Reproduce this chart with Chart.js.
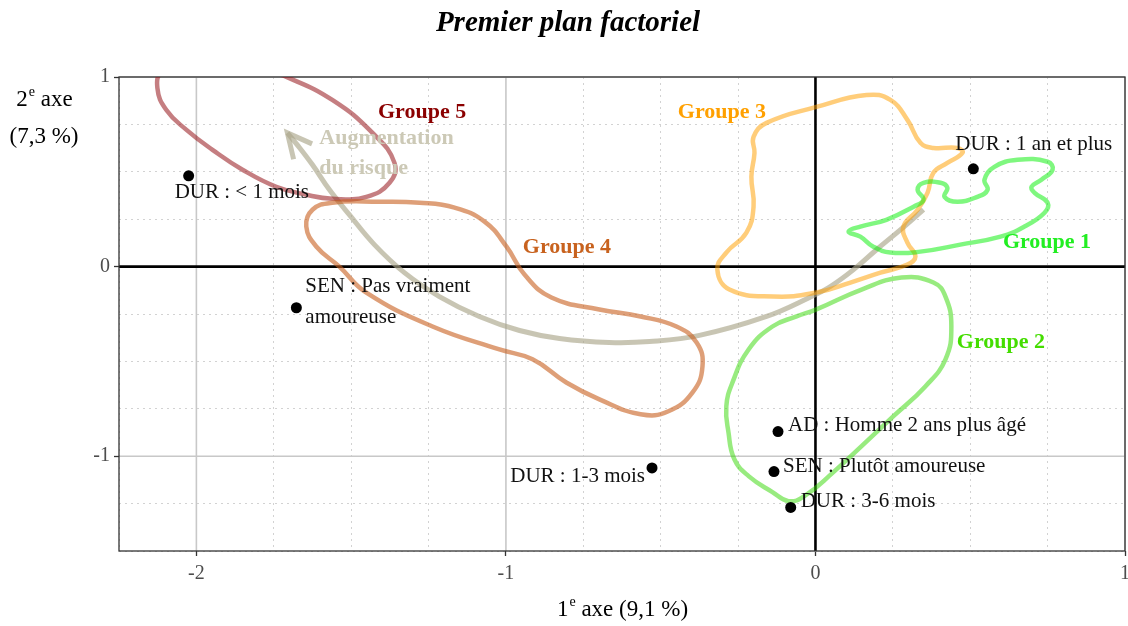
<!DOCTYPE html>
<html>
<head>
<meta charset="utf-8">
<script src="https://cdn.jsdelivr.net/npm/chart.js@4.4.0/dist/chart.umd.min.js"></script>
<style>
    html, body { margin: 0; padding: 0; background: #fff; }
</style>
</head>
<body>
<canvas id="myChart" width="1128" height="626"></canvas>
<script>
// modalites projetees sur le premier plan
const pointNames = ['DUR : < 1 mois', 'SEN : Pas vraiment\namoureuse', 'DUR : 1 an et plus', 'DUR : 1-3 mois',
    'AD : Homme 2 ans plus âgé', 'SEN : Plutôt amoureuse', 'DUR : 3-6 mois'];
const pointX = [-2.025, -1.677, 0.510, -0.528, -0.121, -0.134, -0.080];
const pointY = [0.479, -0.217, 0.516, -1.062, -0.870, -1.081, -1.270];

// contours des groupes (x, y)
const groupe1 = [[0.107, 0.184], [0.145, 0.211], [0.229, 0.247], [0.317, 0.316], [0.349, 0.353], [0.330, 0.405],
    [0.349, 0.442], [0.404, 0.442], [0.426, 0.416], [0.417, 0.368], [0.459, 0.342], [0.523, 0.368], [0.556, 0.405],
    [0.546, 0.458], [0.578, 0.526], [0.653, 0.563], [0.750, 0.553], [0.766, 0.511], [0.730, 0.458], [0.698, 0.421],
    [0.708, 0.389], [0.750, 0.337], [0.740, 0.284], [0.675, 0.211], [0.598, 0.158], [0.468, 0.116], [0.339, 0.079],
    [0.242, 0.074], [0.187, 0.105], [0.145, 0.158]];
const groupe2 = [[0.003, -0.226], [0.149, -0.121], [0.278, -0.058], [0.381, -0.084], [0.420, -0.158], [0.439, -0.316],
    [0.420, -0.489], [0.355, -0.632], [0.252, -0.789], [0.149, -0.947], [0.058, -1.084], [-0.036, -1.211],
    [-0.087, -1.237], [-0.139, -1.189], [-0.216, -1.105], [-0.262, -1.016], [-0.281, -0.874], [-0.288, -0.737],
    [-0.268, -0.611], [-0.216, -0.437], [-0.139, -0.316], [-0.061, -0.263]];
const groupe3 = [[-0.200, 0.684], [-0.158, 0.758], [0.003, 0.842], [0.165, 0.905], [0.242, 0.879], [0.297, 0.774],
    [0.339, 0.653], [0.381, 0.626], [0.459, 0.626], [0.475, 0.600], [0.426, 0.547], [0.381, 0.495], [0.362, 0.389],
    [0.330, 0.300], [0.284, 0.211], [0.297, 0.126], [0.323, 0.053], [0.297, 0.011], [0.210, -0.032], [0.113, -0.084],
    [0.003, -0.137], [-0.136, -0.158], [-0.278, -0.121], [-0.317, -0.016], [-0.288, 0.074], [-0.223, 0.179],
    [-0.200, 0.316], [-0.207, 0.474], [-0.197, 0.600]];
const groupe4 = [[-1.561, 0.337], [-1.409, 0.342], [-1.279, 0.337], [-1.166, 0.311], [-1.069, 0.237], [-0.998, 0.105],
    [-0.940, -0.042], [-0.853, -0.163], [-0.698, -0.226], [-0.565, -0.263], [-0.449, -0.316], [-0.384, -0.400],
    [-0.365, -0.526], [-0.397, -0.663], [-0.475, -0.763], [-0.565, -0.779], [-0.698, -0.700], [-0.805, -0.611],
    [-0.914, -0.489], [-1.021, -0.437], [-1.237, -0.316], [-1.451, -0.137], [-1.538, 0.000], [-1.612, 0.105],
    [-1.645, 0.211], [-1.625, 0.300]];
const groupe5 = [[-2.126, 0.942], [-2.110, 1.026], [-1.990, 1.079], [-1.829, 1.068], [-1.709, 1.000], [-1.561, 0.879],
    [-1.431, 0.705], [-1.360, 0.547], [-1.376, 0.442], [-1.451, 0.368], [-1.561, 0.358], [-1.645, 0.379],
    [-1.742, 0.421], [-1.851, 0.511], [-1.948, 0.616], [-2.032, 0.721], [-2.097, 0.826]];

// fleche "Augmentation du risque"
const fleche = [[0.349, 0.300], [0.275, 0.195], [0.197, 0.089], [0.123, -0.016], [0.048, -0.105], [-0.019, -0.163],
    [-0.158, -0.263], [-0.375, -0.363], [-0.536, -0.395], [-0.666, -0.400], [-0.827, -0.379], [-0.956, -0.337],
    [-1.086, -0.263], [-1.215, -0.158], [-1.328, -0.032], [-1.425, 0.116], [-1.506, 0.274], [-1.570, 0.405],
    [-1.625, 0.537], [-1.674, 0.642], [-1.706, 0.705]];

const groupNames = ['Groupe 1', 'Groupe 2', 'Groupe 3', 'Groupe 4', 'Groupe 5'];
const groupLabelX = [0.748, 0.599, -0.302, -0.803, -1.271];
const groupLabelY = [0.126, -0.400, 0.816, 0.100, 0.816];
const risqueLabel = ['Augmentation', 'du risque'];
const risqueX = -1.603;
const risqueY = [0.679, 0.516];

const xTicks = [-2, -1, 0, 1];
const yTicks = [-1, 0, 1];

// styles
const groupLine = ['rgba(0,240,0,0.5)', 'rgba(50,215,0,0.5)', 'rgba(255,160,0,0.52)', 'rgba(200,95,30,0.6)', 'rgba(150,20,25,0.55)'];
const groupText = ['#22ee22', '#44dd00', '#ffa000', '#c8621e', '#8b0000'];
const arrowColor = 'rgba(170,166,138,0.65)';
const serif = "'Liberation Serif', 'DejaVu Serif', serif";

// decalage des etiquettes en pixels : dx, dy, alignement
const labelPlace = [[-14, 17, 'left'], [9, -21, 'left'], [-18, -24, 'left'], [-7, 9, 'right'],
    [10, -6, 'left'], [9, -5, 'left'], [10, -6, 'left']];

const toXY = (arr) => arr.map(p => ({ x: p[0], y: p[1] }));

let datasets = [{
    data: pointX.map((x, i) => ({ x: x, y: pointY[i] })),
    showLine: false,
    pointRadius: 5.5,
    pointBackgroundColor: '#000',
    pointBorderWidth: 0,
}];
[groupe1, groupe2, groupe3, groupe4, groupe5].forEach((g, i) => {
    datasets.push({
        data: toXY(g),
        borderColor: groupLine[i],
        borderWidth: 4.5,
        pointRadius: 0,
        tension: 0.45,
        fill: false,
        clip: 0,
        closed: true
    });
});
datasets.push({
    data: toXY(fleche),
    borderColor: arrowColor,
    borderWidth: 5,
    pointRadius: 0,
    tension: 0.4,
    fill: false,
    isArrow: true
});

const isInt = (v) => Math.abs(v - Math.round(v)) < 1e-9;

// referme les contours comme une courbe lisse
const closeCurves = {
    id: 'closeCurves',
    afterDatasetsUpdate(chart) {
        chart.data.datasets.forEach((ds, i) => {
            if (!ds.closed) return;
            const line = chart.getDatasetMeta(i).dataset;
            line._loop = true;
            line._fullLoop = true;
            delete line._segments;
            delete line._path;
            line._pointsUpdated = false;
        });
    }
};

function supText(ctx, base, sup, rest, x, y, size, align) {
    ctx.font = size + 'px ' + serif;
    const w1 = ctx.measureText(base).width;
    const w3 = ctx.measureText(rest).width;
    ctx.font = Math.round(size * 0.62) + 'px ' + serif;
    const w2 = ctx.measureText(sup).width;
    const total = w1 + w2 + w3;
    let x0 = align === 'center' ? x - total / 2 : x;
    ctx.textAlign = 'left';
    ctx.textBaseline = 'alphabetic';
    ctx.font = size + 'px ' + serif;
    ctx.fillText(base, x0, y);
    ctx.font = Math.round(size * 0.62) + 'px ' + serif;
    ctx.fillText(sup, x0 + w1 + 1, y - size * 0.42);
    ctx.font = size + 'px ' + serif;
    ctx.fillText(rest, x0 + w1 + w2 + 1, y);
}

const decor = {
    id: 'decor',
    beforeDatasetsDraw(chart) {
        const { ctx, chartArea: a, scales: { x, y } } = chart;
        ctx.save();
        ctx.lineCap = 'butt';
        ctx.strokeStyle = '#c8c8c8';
        ctx.lineWidth = 1.6;
        xTicks.forEach(v => {
            if (v === 0) return;
            const p = x.getPixelForValue(v);
            ctx.beginPath(); ctx.moveTo(p, a.top); ctx.lineTo(p, a.bottom); ctx.stroke();
        });
        yTicks.forEach(v => {
            if (v === 0) return;
            const p = y.getPixelForValue(v);
            ctx.beginPath(); ctx.moveTo(a.left, p); ctx.lineTo(a.right, p); ctx.stroke();
        });
        ctx.strokeStyle = '#000';
        ctx.lineWidth = 2.6;
        const x0 = x.getPixelForValue(0), y0 = y.getPixelForValue(0);
        ctx.beginPath(); ctx.moveTo(x0, a.top); ctx.lineTo(x0, a.bottom); ctx.stroke();
        ctx.beginPath(); ctx.moveTo(a.left, y0); ctx.lineTo(a.right, y0); ctx.stroke();
        ctx.strokeStyle = '#333';
        ctx.lineWidth = 1.3;
        ctx.strokeRect(a.left, a.top, a.right - a.left, a.bottom - a.top);
        ctx.restore();
    },
    afterDatasetsDraw(chart) {
        const { ctx, scales: { x, y } } = chart;
        ctx.save();

        // pointe de la fleche
        const ai = chart.data.datasets.findIndex(d => d.isArrow);
        const pts = chart.getDatasetMeta(ai).data;
        const tip = pts[pts.length - 1], prev = pts[pts.length - 2];
        const ang = Math.atan2(prev.y - tip.y, prev.x - tip.x);
        const len = 27, spread = 0.46;
        ctx.strokeStyle = arrowColor;
        ctx.lineWidth = 5;
        ctx.lineJoin = 'miter';
        ctx.beginPath();
        ctx.moveTo(tip.x + len * Math.cos(ang - spread), tip.y + len * Math.sin(ang - spread));
        ctx.lineTo(tip.x, tip.y);
        ctx.lineTo(tip.x + len * Math.cos(ang + spread), tip.y + len * Math.sin(ang + spread));
        ctx.stroke();

        // etiquettes des groupes
        ctx.font = 'bold 22px ' + serif;
        ctx.textAlign = 'center';
        ctx.textBaseline = 'middle';
        groupNames.forEach((n, i) => {
            ctx.fillStyle = groupText[i];
            ctx.fillText(n, x.getPixelForValue(groupLabelX[i]), y.getPixelForValue(groupLabelY[i]));
        });
        ctx.fillStyle = '#ccc9b6';
        ctx.textAlign = 'left';
        risqueLabel.forEach((t, i) => {
            ctx.fillText(t, x.getPixelForValue(risqueX), y.getPixelForValue(risqueY[i]));
        });

        // etiquettes des modalites
        ctx.font = '21px ' + serif;
        ctx.fillStyle = '#111';
        const meta = chart.getDatasetMeta(0).data;
        pointNames.forEach((n, i) => {
            const p = meta[i];
            const pl = labelPlace[i];
            ctx.textAlign = pl[2];
            n.split('\n').forEach((line, k) => {
                ctx.fillText(line, p.x + pl[0], p.y + pl[1] + k * 31);
            });
        });

        ctx.restore();
    },
    afterDraw(chart) {
        const { ctx } = chart;
        const a = chart.chartArea;
        ctx.save();
        ctx.fillStyle = '#000';
        ctx.font = 'italic bold 29px ' + serif;
        ctx.textAlign = 'center';
        ctx.textBaseline = 'alphabetic';
        ctx.fillText('Premier plan factoriel', 568, 31);

        supText(ctx, '1', 'e', ' axe (9,1 %)', (a.left + a.right) / 2, 616, 23, 'center');
        supText(ctx, '2', 'e', ' axe', 44, 106, 23, 'center');
        ctx.font = '23px ' + serif;
        ctx.textAlign = 'center';
        ctx.fillText('(7,3 %)', 44, 143);
        ctx.restore();
    }
};

function gridOpts() {
    return {
        color: (c) => (c.tick && isInt(c.tick.value)) ? 'rgba(0,0,0,0)' : '#d2d2d2',
        lineWidth: 1,
        tickColor: (c) => (c.tick && isInt(c.tick.value)) ? '#333' : 'rgba(0,0,0,0)',
        tickLength: 5,
        tickWidth: 1.3
    };
}

const ctx = document.getElementById('myChart').getContext('2d');
const myChart = new Chart(ctx, {
    type: 'line',
    data: { datasets: datasets },
    plugins: [closeCurves, decor],
    options: {
        responsive: false,
        animation: false,
        devicePixelRatio: 1,
        layout: { autoPadding: false, padding: { top: 77, right: 3, left: 0, bottom: 0 } },
        plugins: { legend: { display: false }, tooltip: { enabled: false } },
        elements: { line: { capBezierPoints: false } },
        scales: {
            x: {
                type: 'linear',
                min: -2.25,
                max: 1,
                grid: gridOpts(),
                border: { display: false, dash: [2, 4] },
                ticks: {
                    stepSize: 0.25,
                    autoSkip: false,
                    maxRotation: 0,
                    padding: 6,
                    color: '#4d4d4d',
                    font: { family: serif, size: 20 },
                    callback: (v) => xTicks.includes(v) ? String(v) : ''
                },
                afterFit: (s) => { s.height = 75; s.paddingRight = 0; s.paddingLeft = 0; }
            },
            y: {
                type: 'linear',
                min: -1.5,
                max: 1,
                grid: gridOpts(),
                border: { display: false, dash: [2, 4] },
                ticks: {
                    stepSize: 0.25,
                    autoSkip: false,
                    padding: 4,
                    color: '#4d4d4d',
                    font: { family: serif, size: 20 },
                    callback: (v) => yTicks.includes(v) ? String(v) : ''
                },
                afterFit: (s) => { s.width = 119; s.paddingTop = 0; s.paddingBottom = 0; }
            }
        }
    }
});
</script>
</body>
</html>
